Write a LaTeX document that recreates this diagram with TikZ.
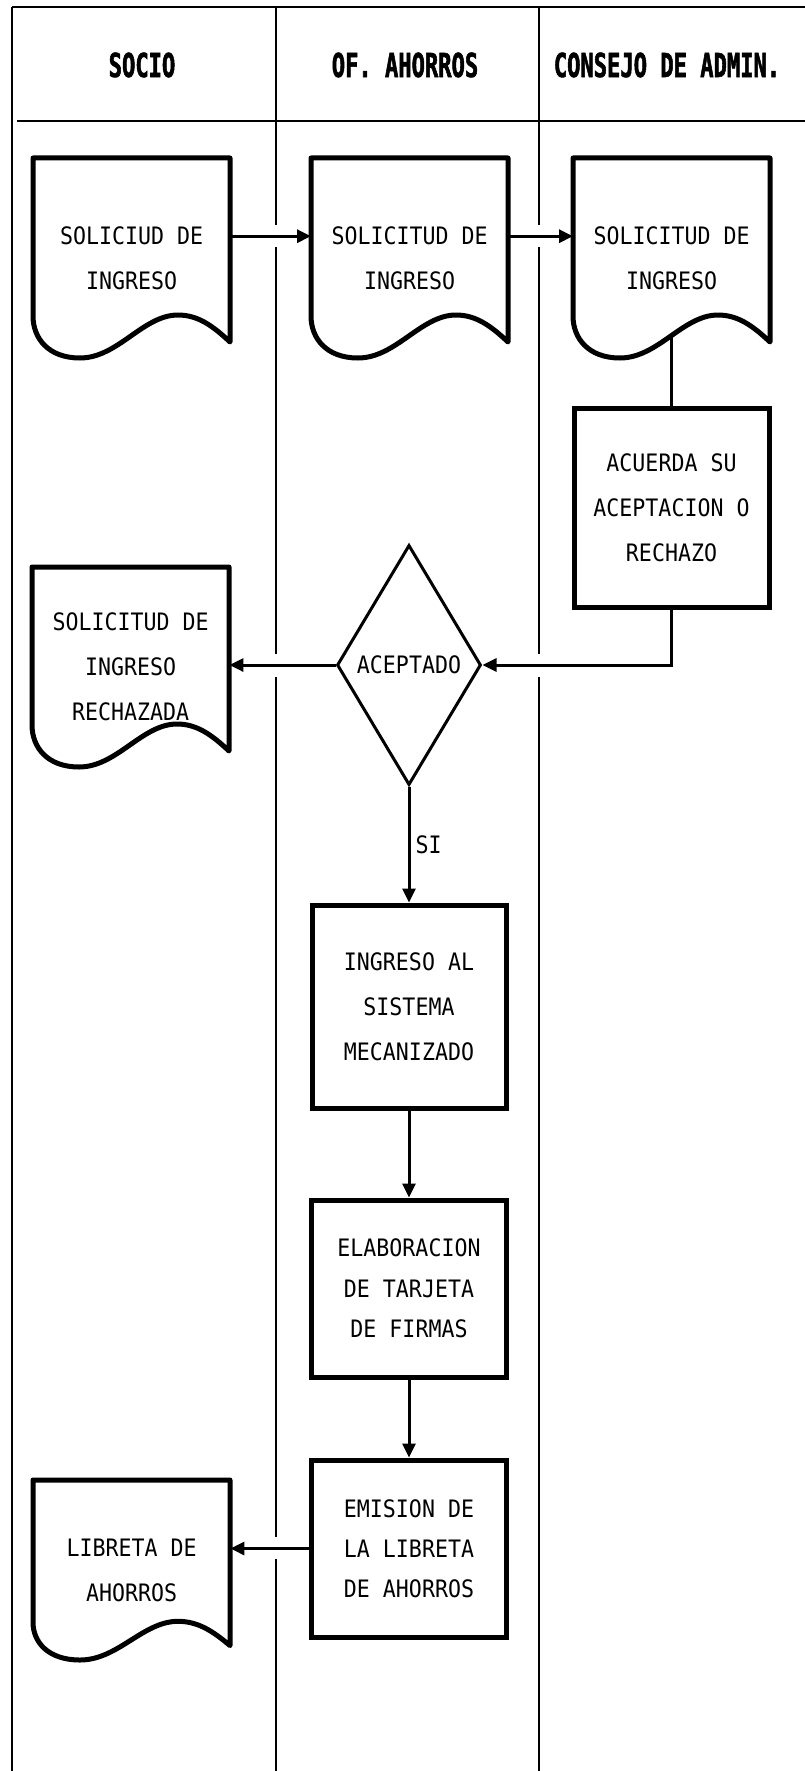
\documentclass[tikz,border=0pt]{standalone}
\usepackage{fontspec}
\usetikzlibrary{shapes.geometric,arrows.meta,calc}
\newfontfamily\plotfont{DejaVu Sans Mono}[FakeStretch=0.9]
\newfontfamily\headfont{DejaVu Sans Mono}[FakeStretch=0.67,FakeBold=1.6]

% document symbol: flat top, straight sides, wavy bottom; #1 node, #2 depth to trough
\newcommand\docoutline[2]{%
  \begin{scope}[shift={(#1.north west)}]
    \draw[docline] (0,{0.79*#2}) -- (0,0) -- (197,0) -- (197,{0.92*#2})
      .. controls (180,{0.84*#2}) and (165,{0.785*#2}) .. (145,{0.785*#2})
      .. controls (110,{0.785*#2}) and (85,#2) .. (47,#2)
      .. controls (15,#2) and (0,{0.9*#2}) .. cycle;
  \end{scope}}

\begin{document}
\begin{tikzpicture}[x=1pt,y=-1pt,
  lane/.style={line width=1.8pt},
  frame/.style={line width=2.6pt},
  txt/.style={font=\plotfont\fontsize{24}{45}\selectfont},
  procbox/.style={draw, rectangle, line width=5pt, inner sep=0pt, align=center, txt},
  docbody/.style={rectangle, inner sep=0pt, minimum width=197pt, align=center, anchor=north west, txt},
  docline/.style={line width=5pt, line join=round},
  decision/.style={draw, diamond, line width=3pt, aspect=0.6, inner sep=0pt,
    minimum width=144pt, minimum height=240pt, txt},
  flow/.style={line width=3pt, -{Triangle[length=14pt,width=13pt]}},
  plain/.style={line width=3pt},
  heading/.style={font=\headfont\bfseries\fontsize{33}{33}\selectfont}
]
\fill[white] (0,0) rectangle (805,1771);
\useasboundingbox (0,0) rectangle (805,1771);

% swimlane frame
\draw[frame] (12,7) -- (805,7);
\draw[lane] (12,7) -- (12,1771);
\draw[frame] (17,121) -- (805,121);
\draw[lane] (276,7) -- (276,225) (276,247) -- (276,654) (276,677) -- (276,1537) (276,1559) -- (276,1771);
\draw[lane] (539,7) -- (539,225) (539,247) -- (539,654) (539,677) -- (539,1771);

% lane headings
\node[heading] (hsocio) at (142,65) {SOCIO};
\node[heading] (hahorro) at (405,65) {OF. AHORROS};
\node[heading] (hconsejo) at (667,65) {CONSEJO DE ADMIN.};

% documents
\node[docbody, minimum height=200pt] (d1) at (33,158) {SOLICIUD DE\\INGRESO};
\node[docbody, minimum height=200pt] (d2) at (311,158) {SOLICITUD DE\\INGRESO};
\node[docbody, minimum height=200pt] (d3) at (573,158) {SOLICITUD DE\\INGRESO};
\node[docbody, minimum height=200pt] (d4) at (32,567) {SOLICITUD DE\\INGRESO\\RECHAZADA};
\node[docbody, minimum height=180pt] (lib) at (33,1480) {LIBRETA DE\\AHORROS};
\docoutline{d1}{200}
\docoutline{d2}{200}
\docoutline{d3}{200}
\docoutline{d4}{200}
\docoutline{lib}{180}

% processes and decision
\node[procbox, minimum width=195pt, minimum height=199pt] (ac) at (671.5,507.5) {ACUERDA SU\\ACEPTACION O\\RECHAZO};
\node[decision] (dia) at (409,665) {ACEPTADO};
\node[procbox, minimum width=194pt, minimum height=203pt] (ing) at (409,1006.5) {INGRESO AL\\SISTEMA\\MECANIZADO};
\node[procbox, minimum width=195pt, minimum height=177pt, font=\plotfont\fontsize{24}{40.5}\selectfont] (elab) at (409,1288.5) {ELABORACION\\DE TARJETA\\DE FIRMAS};
\node[procbox, minimum width=195pt, minimum height=177pt, font=\plotfont\fontsize{24}{40}\selectfont] (em) at (409,1548.5) {EMISION DE\\LA LIBRETA\\DE AHORROS};

% connectors
\draw[flow] ([yshift=22pt]d1.east) -- ([yshift=22pt]d1.east -| d2.west);
\draw[flow] ([yshift=22pt]d2.east) -- ([yshift=22pt]d2.east -| d3.west);
\coordinate (w3) at ($(d3.north west)+(98.5,178)$);
\draw[plain] (w3) -- (w3 |- ac.north);
\draw[flow] (ac.south) |- (dia.east);
\draw[flow] (dia.west) -- (dia.west -| d4.east);
\draw[flow] (dia.south) -- node[right, inner sep=5pt, txt] {SI} (ing.north);
\draw[flow] (ing.south) -- (elab.north);
\draw[flow] (elab.south) -- (em.north);
\draw[flow] (em.west) -- (em.west -| lib.east);
\end{tikzpicture}
\end{document}
